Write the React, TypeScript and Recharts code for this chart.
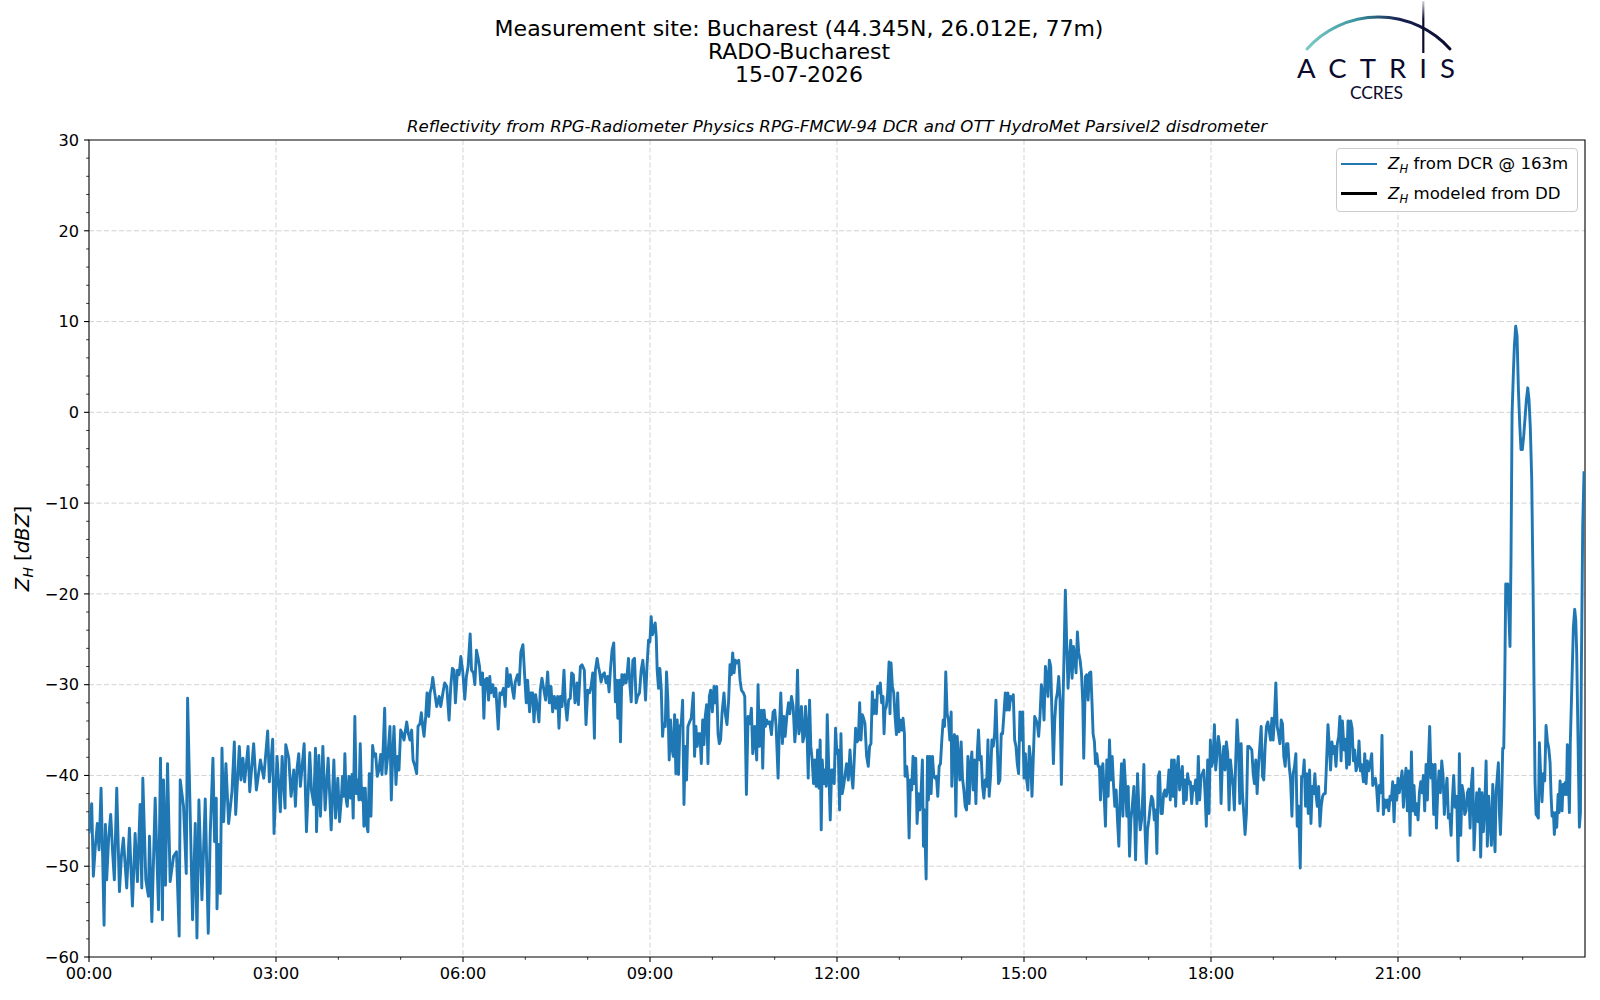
import React from 'react';
import { LineChart, Line, XAxis, YAxis, CartesianGrid, ReferenceArea, Legend } from 'recharts';

const FONT = '"DejaVu Sans", sans-serif';
const BLUE = '#1f77b4';
const NAVY = '#0b0b2e';

const nightMinutes = [
  0, 2.6, 4.2, 6.1, 8.0, 9.7, 11.6, 13.2, 14.5, 15.8, 17.0, 19.0, 20.9, 22.8, 24.4, 26.7, 29.3, 31.2, 33.1, 36.3,
  38.9, 41.8, 44.4, 46.6, 49.2, 50.8, 51.8, 54.7, 57.2, 58.2, 60.5, 63.7, 66.9, 68.8, 70.7, 71.7, 73.6, 75.6, 78.1, 81.4,
  84.2, 86.8, 87.8, 91.0, 93.6, 94.9, 96.5, 99.7, 102.3, 103.9, 105.8, 108.7, 111.9, 114.8, 116.7, 119.3, 120.9, 122.5, 123.2, 124.8,
  126.4, 128.0, 129.6, 131.8, 134.4, 137.6, 139.9, 141.2, 144.7, 146.3, 148.2, 149.8, 153.1, 154.7, 158.5, 161.1, 165.0, 168.2, 172.0, 173.6,
  176.8, 178.1, 181.0, 184.2, 185.9, 188.7, 189.4, 192.3, 194.5, 197.1, 198.7, 200.3, 201.9, 203.5, 207.1, 209.3, 212.5, 214.1, 216.4, 218.0,
  219.0, 221.2, 222.8, 225.1, 227.3, 230.2, 233.1, 235.7, 237.3, 239.5, 241.2,
];
const nightZh = [
  -46.4, -43.1, -51.1, -47.8, -45.3, -48.2, -41.4, -49.3, -56.5, -45.4, -51.5, -46.7, -44.3, -48.6, -51.5, -41.4, -52.8, -48.9, -46.9, -52.4,
  -45.8, -54.4, -46.4, -51.7, -43.2, -52.4, -40.3, -51.5, -53.3, -46.7, -56.1, -42.5, -54.8, -38.1, -55.9, -40.5, -52.1, -38.7, -51.7, -48.9,
  -48.4, -57.7, -40.5, -43.4, -50.8, -31.5, -39.6, -55.9, -45.3, -57.9, -42.7, -53.7, -42.6, -57.4, -46.4, -38.1, -47.3, -42.5, -54.7, -47.6,
  -53.0, -37.0, -45.1, -38.7, -45.3, -41.8, -36.3, -44.3, -36.8, -40.5, -38.1, -40.7, -36.8, -41.8, -36.5, -41.6, -38.3, -40.3, -35.1, -40.7,
  -36.0, -46.4, -37.9, -44.0, -37.9, -43.6, -36.6, -38.1, -42.3, -39.4, -43.4, -39.2, -37.6, -41.2, -36.5, -46.2, -37.5, -41.6, -43.2, -37.0,
  -46.2, -37.8, -44.5, -36.8, -43.8, -38.1, -46.0, -38.3, -44.7, -40.3, -45.1,
];

const morningMinutes = [
  242.8, 244.0, 245.3, 246.3, 247.6, 248.6, 250.2, 251.8, 253.1, 254.3, 255.9, 257.2, 258.8, 259.8, 261.1, 262.4, 263.7, 264.6, 265.9, 267.2,
  268.5, 269.8, 271.4, 273.0, 274.3, 275.9, 277.5, 279.1, 280.7, 282.0, 283.0, 284.6, 285.8, 287.8, 289.7, 291.0, 292.3, 293.6, 295.5, 296.8,
  298.4, 300.0, 301.6, 303.2, 305.8, 307.4, 309.0, 310.6, 311.9, 313.8, 315.4, 316.7, 318.6, 319.9, 321.2, 322.5, 324.1, 325.4, 327.0, 328.3,
  329.9, 330.9, 332.8, 334.7, 337.0, 338.6, 340.8, 342.4, 344.4, 346.6, 348.2, 349.8, 351.4, 352.7, 354.7, 356.3, 357.9, 359.8, 361.7, 363.3,
  364.9, 366.9, 368.2, 370.1, 371.4, 373.0, 374.6, 375.9, 377.2, 378.8, 380.1, 381.3, 383.0, 384.6, 385.8, 386.8, 388.7, 390.0, 391.6, 393.9,
  395.5, 397.1, 399.0, 400.6, 402.2, 403.8, 405.5, 407.1, 409.0, 410.3, 412.5, 414.1, 415.7, 417.7, 419.6, 420.9, 422.2, 424.1, 425.4, 427.0,
  428.3, 429.9, 431.5, 433.1, 434.4, 436.0, 437.6, 439.5, 441.5, 443.1, 444.7, 446.3, 447.9, 449.5, 451.1, 452.4, 453.7, 455.3, 457.2, 458.5,
  460.1, 461.7, 463.3, 464.6, 466.2, 467.8, 469.8, 471.1, 473.0, 474.6, 476.8, 478.4, 480.1, 481.7, 483.3,
];
const morningZh = [
  -42.7, -40.1, -42.3, -37.6, -42.7, -43.4, -40.1, -42.5, -39.9, -44.7, -33.5, -42.0, -40.5, -42.7, -36.5, -42.7, -41.4, -45.6, -41.4, -45.4,
  -46.2, -39.8, -44.5, -36.7, -37.9, -37.6, -40.1, -39.4, -37.7, -39.9, -37.6, -32.6, -39.8, -37.6, -34.6, -42.7, -37.9, -34.6, -41.0, -37.9,
  -39.4, -35.0, -35.4, -36.1, -34.1, -35.4, -36.1, -35.0, -38.3, -39.0, -39.8, -34.6, -34.3, -33.1, -34.6, -35.7, -33.5, -30.9, -33.5, -30.9,
  -30.2, -29.2, -30.9, -32.4, -31.3, -32.4, -30.8, -29.8, -30.2, -33.9, -30.2, -28.2, -28.4, -32.0, -28.4, -28.9, -26.9, -28.6, -31.6, -29.1,
  -28.0, -24.4, -28.4, -28.7, -30.0, -26.2, -27.1, -28.0, -30.0, -28.7, -33.7, -29.5, -29.3, -31.7, -29.1, -30.9, -30.0, -31.3, -30.4, -34.9,
  -30.9, -31.1, -30.4, -32.4, -28.2, -30.2, -28.9, -30.2, -31.5, -29.7, -28.9, -30.0, -26.4, -25.6, -29.5, -32.0, -29.5, -33.0, -30.9, -30.9,
  -34.1, -31.1, -32.4, -34.1, -30.6, -29.3, -30.4, -31.7, -28.6, -32.0, -30.2, -33.0, -31.3, -32.6, -31.3, -34.8, -31.3, -32.4, -28.4, -32.0,
  -33.9, -31.7, -31.5, -28.7, -28.9, -32.0, -29.8, -32.2, -28.0, -27.8, -28.4, -34.4, -30.6, -30.9, -30.2,
];

const middayMinutes = [
  484.9, 486.5, 487.4, 489.1, 490.3, 491.6, 492.9, 494.5, 496.1, 497.7, 499.3, 500.6, 501.9, 503.5, 505.1, 506.7, 508.0, 509.0, 510.6, 511.6,
  512.9, 514.1, 515.4, 517.0, 518.0, 519.3, 520.6, 521.9, 523.5, 525.1, 526.7, 528.0, 529.9, 531.5, 533.1, 534.7, 535.7, 537.0, 538.6, 539.9,
  541.1, 542.4, 543.7, 545.0, 546.0, 546.9, 548.2, 549.5, 550.8, 552.1, 553.0, 554.7, 555.9, 557.2, 558.5, 559.8, 561.1, 562.4, 563.7, 564.9,
  566.2, 567.5, 568.8, 570.1, 571.4, 572.7, 573.9, 575.2, 576.5, 578.1, 579.7, 581.7, 582.9, 584.2, 585.5, 586.8, 588.1, 589.4, 590.7, 591.9,
  593.2, 594.5, 595.8, 597.1, 598.4, 600.0, 601.6, 602.9, 604.2, 605.5, 606.7, 608.0, 609.3, 611.2, 612.5, 614.1, 615.7, 617.0, 618.3, 619.6,
  620.9, 622.2, 623.8, 625.4, 626.7, 628.0, 629.9, 631.2, 632.8, 634.4, 636.0, 637.6, 638.9, 640.8, 642.7, 644.0, 645.3, 647.3, 648.5, 649.8,
  651.1, 652.4, 653.7, 655.3, 656.9, 658.5, 660.1, 661.4, 663.3, 664.6, 665.9, 667.5, 668.8, 670.1, 671.7, 673.3, 674.6, 676.2, 677.8, 679.4,
  680.7, 682.0, 683.3, 684.6, 685.8, 687.1, 688.4, 689.7, 691.0, 692.3, 693.6, 694.8, 696.1, 697.4, 698.7, 700.0, 701.3, 702.6, 703.8, 704.8,
  705.8, 707.1, 708.3, 709.6, 710.6, 712.2, 713.5, 714.8, 716.1, 717.3, 718.6, 719.9, 721.2, 722.5, 723.8,
];
const middayZh = [
  -28.7, -35.9, -28.4, -27.1, -28.0, -28.7, -29.7, -28.9, -28.7, -29.8, -29.1, -30.8, -28.4, -26.2, -25.4, -31.9, -29.5, -33.7, -29.5, -36.3,
  -28.9, -30.0, -28.9, -29.8, -28.9, -27.1, -30.0, -31.9, -27.3, -27.1, -32.0, -31.3, -30.9, -28.4, -27.3, -29.5, -31.7, -28.2, -25.1, -25.3,
  -22.5, -24.5, -23.8, -23.2, -24.7, -28.4, -30.4, -28.2, -30.4, -35.7, -34.3, -34.6, -28.6, -31.7, -38.3, -33.9, -37.0, -37.9, -33.3, -39.8,
  -33.9, -39.9, -34.6, -34.3, -31.7, -43.2, -36.8, -40.5, -34.6, -34.1, -33.7, -30.9, -37.9, -34.6, -36.8, -35.4, -35.4, -38.7, -33.9, -36.6,
  -33.5, -32.2, -38.7, -31.3, -30.6, -33.0, -30.2, -32.0, -30.2, -35.4, -36.5, -36.1, -33.2, -30.9, -33.2, -34.4, -31.7, -27.8, -28.9, -26.5,
  -28.7, -27.3, -27.6, -27.3, -29.5, -30.6, -30.9, -31.3, -42.1, -33.5, -34.3, -32.6, -37.6, -34.6, -38.3, -30.0, -36.8, -32.8, -39.2, -32.8,
  -34.6, -33.9, -34.3, -34.1, -35.5, -33.0, -32.8, -34.6, -40.3, -34.6, -30.9, -36.5, -33.5, -35.7, -33.5, -32.0, -33.2, -31.3, -32.4, -36.3,
  -34.3, -28.4, -35.4, -34.6, -32.4, -36.3, -35.7, -32.4, -34.6, -40.3, -31.7, -36.8, -38.3, -40.9, -38.3, -41.2, -37.2, -41.4, -36.1, -46.0,
  -38.3, -40.9, -39.4, -41.2, -33.3, -39.8, -44.9, -39.4, -39.4, -40.9, -34.8, -37.6, -37.2, -43.8, -35.4,
];

const afternoonMinutes = [
  725.1, 726.3, 727.6, 729.2, 730.9, 732.5, 734.1, 735.3, 736.6, 737.9, 739.2, 740.5, 741.8, 743.1, 744.4, 745.6, 746.9, 748.5, 750.1, 751.4,
  752.7, 754.0, 755.3, 756.6, 757.9, 759.1, 760.4, 761.7, 763.0, 764.3, 765.3, 766.2, 767.5, 768.8, 770.1, 771.0, 772.0, 773.3, 774.6, 775.9,
  777.2, 778.4, 779.7, 781.0, 782.3, 783.6, 784.9, 785.5, 787.1, 788.1, 789.4, 790.7, 791.9, 793.2, 794.5, 795.8, 797.1, 798.4, 799.7, 800.9,
  802.2, 803.2, 804.2, 805.1, 805.8, 807.1, 808.0, 809.3, 810.6, 811.9, 813.2, 814.4, 815.7, 817.0, 818.3, 819.6, 820.9, 822.2, 823.5, 824.7,
  826.0, 827.3, 828.6, 829.9, 830.5, 831.8, 833.1, 834.4, 835.7, 837.0, 838.2, 839.5, 840.8, 842.1, 843.4, 844.7, 846.0, 847.2, 848.5, 849.8,
  851.1, 852.4, 853.7, 855.0, 856.2, 857.5, 858.8, 860.1, 861.4, 862.7, 864.0, 865.3, 866.5, 867.8, 869.1, 870.4, 871.7, 873.0, 874.3, 875.5,
  876.8, 878.1, 879.4, 880.7, 882.0, 883.3, 884.5, 885.8, 887.1, 888.4, 889.7, 891.0, 892.3, 893.5, 894.8, 896.1, 897.4, 898.7, 900.0, 901.3,
  902.6, 903.8, 905.1, 906.4, 907.7, 909.0, 910.3, 911.6, 912.8, 914.1, 915.4, 916.7, 918.0, 919.3, 920.6, 921.8, 923.1, 924.4, 925.7, 927.0,
  928.3, 929.6, 930.8, 932.1, 933.4, 934.7, 936.0, 937.3, 938.6, 939.8, 941.1, 942.4, 943.7, 945.0, 946.3, 947.6, 948.8, 950.1, 951.4, 952.7,
  954.0, 955.3, 956.6, 957.5, 959.1, 960.4, 961.7, 963.0, 964.3, 965.6,
];
const afternoonZh = [
  -42.0, -41.2, -40.1, -38.7, -40.5, -37.2, -40.1, -41.4, -38.3, -34.8, -36.3, -36.1, -32.0, -36.1, -33.3, -33.7, -34.3, -37.9, -39.0, -36.8,
  -36.5, -30.8, -33.2, -31.7, -33.2, -30.2, -30.9, -29.8, -32.0, -31.3, -35.4, -32.8, -32.4, -30.9, -27.5, -33.2, -27.6, -30.2, -30.9, -33.5,
  -35.5, -30.9, -35.2, -33.9, -35.0, -33.7, -35.4, -40.1, -39.0, -40.5, -46.9, -40.5, -41.6, -37.9, -40.9, -38.1, -45.3, -42.0, -43.8, -42.0,
  -38.3, -47.8, -43.8, -48.2, -51.4, -37.9, -42.7, -37.9, -42.0, -37.9, -40.1, -40.3, -40.1, -42.3, -39.0, -38.7, -36.1, -33.9, -34.6, -28.6,
  -33.2, -33.9, -36.1, -33.0, -41.2, -36.1, -35.5, -44.5, -35.7, -38.3, -40.5, -36.3, -40.3, -41.6, -43.4, -43.8, -37.9, -43.1, -39.0, -37.4,
  -41.6, -38.3, -43.1, -37.6, -35.0, -38.3, -37.9, -41.2, -42.5, -40.5, -41.2, -36.1, -42.3, -40.1, -36.1, -36.8, -35.4, -31.7, -36.8, -40.9,
  -40.5, -35.4, -35.4, -33.2, -30.9, -32.8, -30.9, -32.8, -31.3, -31.7, -31.1, -36.1, -36.8, -38.7, -39.8, -33.0, -36.1, -33.0, -40.3, -37.6,
  -40.5, -41.6, -36.8, -38.3, -42.3, -37.9, -33.5, -33.9, -34.3, -35.7, -33.5, -30.0, -30.9, -33.9, -28.0, -29.1, -31.3, -27.3, -28.0, -33.5,
  -38.7, -33.9, -31.7, -30.9, -29.1, -31.7, -41.0, -33.2, -26.5, -19.6, -25.4, -30.4, -27.3, -25.1, -29.3, -25.8, -26.9, -28.7, -24.2, -26.5,
  -27.3, -28.7, -32.0, -38.1, -29.1, -28.9, -31.7, -28.7, -28.6, -32.4,
];

const eveningMinutes = [
  966.5, 967.8, 968.8, 970.1, 971.4, 972.6, 973.6, 974.6, 975.9, 977.1, 978.4, 979.7, 981.0, 982.3, 983.6, 984.9, 986.1, 987.4, 988.7, 990.0,
  991.3, 992.6, 993.9, 995.2, 996.4, 997.7, 999.0, 1000.3, 1001.6, 1002.9, 1004.2, 1005.8, 1007.4, 1008.3, 1009.3, 1010.6, 1011.9, 1013.2, 1014.4, 1015.4,
  1016.4, 1017.7, 1018.9, 1020.2, 1021.5, 1022.8, 1024.1, 1025.4, 1026.7, 1027.9, 1029.2, 1030.5, 1031.8, 1033.1, 1034.4, 1035.7, 1037.0, 1038.2, 1039.5, 1040.8,
  1042.1, 1043.4, 1044.7, 1046.0, 1047.2, 1048.5, 1049.8, 1051.1, 1052.4, 1053.7, 1055.0, 1056.2, 1057.5, 1058.8, 1060.1, 1061.4, 1062.7, 1064.0, 1065.2, 1066.5,
  1067.8, 1069.1, 1070.4, 1071.7, 1073.0, 1074.3, 1075.5, 1076.8, 1078.1, 1079.4, 1080.7, 1082.0, 1083.3, 1084.5, 1085.8, 1087.1, 1088.4, 1089.7, 1091.0, 1092.3,
  1093.5, 1094.8, 1096.1, 1097.4, 1098.7, 1100.0, 1101.3, 1102.5, 1103.8, 1105.1, 1106.4, 1107.7, 1109.0, 1110.3, 1111.6, 1112.8, 1114.1, 1115.4, 1116.7, 1118.0,
  1119.3, 1120.6, 1121.8, 1123.1, 1124.4, 1125.7, 1127.0, 1128.3, 1129.6, 1130.8, 1132.1, 1133.4, 1134.7, 1136.0, 1137.3, 1138.6, 1139.8, 1141.1, 1142.4, 1143.7,
  1145.0, 1146.3, 1147.6, 1148.8, 1150.1, 1151.4, 1152.7, 1154.0, 1155.3, 1156.6, 1157.9, 1159.1, 1160.4, 1161.7, 1163.0, 1164.3, 1165.9, 1167.2, 1168.5, 1169.7,
  1171.0, 1172.3, 1173.6, 1174.9, 1176.2, 1177.5, 1178.7, 1180.0, 1181.0, 1182.3, 1183.6, 1184.9, 1186.1, 1187.4, 1188.7, 1190.0, 1191.3, 1192.6, 1193.9, 1195.1,
  1196.4, 1197.7, 1199.0, 1200.3, 1201.6, 1202.9, 1204.1,
];
const eveningZh = [
  -35.4, -36.3, -38.7, -37.6, -39.0, -39.0, -42.7, -39.8, -38.7, -42.0, -45.6, -38.3, -42.3, -36.1, -40.5, -37.9, -40.9, -43.4, -41.6, -44.9,
  -47.8, -42.0, -38.7, -44.5, -38.3, -41.2, -44.5, -41.2, -48.9, -44.9, -43.4, -41.2, -49.3, -44.9, -39.8, -43.8, -46.0, -44.9, -42.0, -38.8,
  -45.6, -49.7, -46.0, -44.9, -43.4, -42.3, -42.7, -44.9, -43.8, -48.6, -40.1, -39.6, -44.2, -44.2, -42.0, -41.6, -42.3, -41.6, -39.4, -42.7,
  -38.3, -42.3, -38.3, -43.4, -39.4, -37.9, -41.6, -40.1, -39.0, -43.1, -40.5, -42.7, -39.8, -40.9, -40.7, -43.1, -41.2, -41.6, -40.5, -43.1,
  -37.9, -42.7, -40.1, -39.8, -39.4, -42.0, -45.6, -38.3, -44.2, -36.1, -39.0, -38.3, -34.4, -39.4, -37.6, -35.7, -36.8, -43.1, -38.3, -36.8,
  -39.4, -36.3, -37.6, -43.8, -38.3, -39.8, -41.2, -43.8, -38.3, -33.9, -36.8, -43.1, -36.5, -42.0, -44.2, -46.5, -44.2, -36.8, -36.8, -37.0,
  -37.2, -39.8, -40.9, -38.3, -42.0, -39.0, -36.8, -34.6, -40.1, -40.5, -36.8, -34.6, -34.1, -35.0, -36.1, -33.7, -36.1, -33.7, -29.8, -34.6,
  -35.4, -36.5, -33.9, -34.3, -37.9, -39.0, -36.5, -36.5, -39.0, -40.5, -44.5, -39.8, -39.0, -37.6, -45.6, -43.4, -50.2, -40.1, -40.1, -38.3,
  -43.4, -39.8, -44.2, -39.4, -45.3, -41.2, -42.0, -39.8, -42.0, -43.4, -41.2, -45.6, -43.4, -42.3, -42.0, -42.0, -38.3, -34.4, -36.8, -39.4,
  -36.3, -37.6, -36.8, -39.0, -36.5, -35.7, -33.5,
];

const lateMinutes = [
  1205.2, 1206.5, 1208.1, 1209.4, 1210.6, 1211.9, 1213.2, 1214.5, 1215.8, 1217.1, 1218.3, 1219.6, 1221.2, 1222.5, 1223.8, 1225.1, 1226.7, 1228.0, 1229.3, 1230.5,
  1231.8, 1233.1, 1234.7, 1235.7, 1237.0, 1238.2, 1239.5, 1240.8, 1242.1, 1243.4, 1244.6, 1245.9, 1247.2, 1248.5, 1249.8, 1251.1, 1252.3, 1253.6, 1254.9, 1256.2,
  1257.5, 1258.8, 1260.0, 1261.3, 1262.6, 1263.9, 1265.2, 1266.5, 1267.7, 1269.0, 1270.3, 1271.6, 1272.9, 1274.2, 1275.4, 1276.7, 1278.0, 1279.3, 1280.6, 1281.9,
  1283.1, 1284.4, 1285.7, 1287.0, 1288.3, 1289.3, 1290.5, 1291.8, 1293.1, 1294.4, 1295.7, 1297.0, 1298.2, 1299.5, 1300.8, 1302.1, 1303.4, 1304.6, 1305.9, 1307.2,
  1308.5, 1309.8, 1311.1, 1312.3, 1313.6, 1314.9, 1316.5, 1317.8, 1319.1, 1320.4, 1321.7, 1322.9, 1324.2, 1325.5, 1326.8, 1328.1, 1329.4, 1330.6, 1331.9, 1333.2,
  1334.5, 1335.8, 1337.1, 1338.3, 1339.6, 1340.9, 1342.2, 1343.5, 1344.8, 1346.0, 1347.3, 1348.6,
];
const lateZh = [
  -38.4, -34.0, -37.2, -36.0, -39.2, -34.0, -38.8, -34.0, -34.8, -38.4, -37.2, -39.5, -38.8, -36.2, -39.5, -38.8, -40.7, -37.6, -40.9, -38.4,
  -39.5, -38.8, -37.6, -41.1, -40.7, -40.3, -41.5, -43.9, -41.1, -41.9, -35.6, -44.3, -42.7, -43.5, -42.7, -43.9, -42.3, -42.7, -40.7, -45.1,
  -41.1, -42.7, -40.3, -41.9, -40.7, -39.5, -43.5, -40.7, -39.2, -43.9, -39.5, -46.6, -37.4, -43.9, -41.1, -44.3, -43.1, -44.9, -41.9, -40.7,
  -41.9, -40.0, -43.9, -38.8, -42.7, -38.4, -34.6, -40.3, -38.8, -44.3, -38.8, -45.8, -41.9, -39.5, -41.9, -38.4, -40.0, -44.3, -41.9, -40.3,
  -44.7, -44.3, -46.6, -42.7, -40.0, -43.5, -42.3, -49.4, -37.6, -46.6, -41.1, -41.9, -44.3, -43.9, -41.9, -41.5, -45.8, -41.1, -39.2, -48.2,
  -44.7, -41.9, -45.1, -41.5, -49.0, -41.9, -46.2, -43.5, -38.4, -47.8, -42.3, -45.1,
];

const stormMinutes = [
  1349.9, 1351.2, 1352.5, 1353.4, 1354.4, 1355.3, 1356.6, 1357.6, 1358.6, 1359.8, 1360.8, 1361.8, 1362.7, 1363.7, 1364.6, 1365.6, 1366.9, 1367.8, 1368.8,
  1369.8, 1371.1, 1372.0, 1373.3, 1374.6, 1375.9, 1377.2, 1378.4, 1379.7, 1381.0, 1382.3, 1383.6, 1384.9, 1386.1, 1387.4, 1388.7, 1390.0, 1391.0, 1391.9, 1392.9,
  1394.2, 1395.1, 1396.1, 1397.4, 1398.6, 1399.9, 1401.2, 1402.5, 1403.8, 1405.1, 1406.4, 1407.3, 1408.3, 1409.6, 1410.5, 1411.8, 1412.8, 1414.1, 1415.0, 1416.0,
  1416.9, 1417.9, 1418.9, 1419.8, 1420.8, 1422.1, 1423.0, 1424.0, 1425.0, 1425.9, 1427.2, 1428.8, 1430.1, 1431.1, 1432.0, 1433.3, 1434.6, 1435.6, 1436.5, 1437.8,
  1439.1,
];
const stormZh = [
  -47.7, -41.0, -46.1, -48.4, -41.8, -40.6, -38.6, -44.1, -46.5, -42.5, -37.0, -37.0, -30.3, -18.9, -19.3, -18.9, -22.9, -25.8, -15.8,
  -0.2, 4.5, 7.3, 9.5, 8.4, 2.5, -1.4, -4.1, -4.1, -2.6, -0.6, 1.4, 2.7, 1.4, -1.8, -7.3, -19.1, -30.9, -40.7, -44.3,
  -44.5, -44.7, -36.4, -40.2, -42.9, -39.8, -40.6, -34.5, -36.2, -37.0, -38.6, -42.1, -44.5, -44.1, -46.5, -44.1, -45.7, -42.1, -44.1, -40.6,
  -42.1, -43.9, -41.0, -42.1, -40.8, -42.1, -36.6, -40.2, -44.1, -36.2, -30.7, -23.7, -21.7, -22.9, -26.4, -36.2, -45.7, -44.1, -28.4, -12.6,
  -6.5,
];

const minuteBlocks = [nightMinutes, morningMinutes, middayMinutes, afternoonMinutes, eveningMinutes, lateMinutes, stormMinutes];
const zhBlocks = [nightZh, morningZh, middayZh, afternoonZh, eveningZh, lateZh, stormZh];

// axis ticks
const hourTicks = [
  0, 60, 120, 180, 240, 300, 360, 420, 480, 540, 600, 660, 720, 780, 840, 900, 960, 1020, 1080, 1140, 1200, 1260, 1320, 1380,
];
const xMajorTicks = [0, 180, 360, 540, 720, 900, 1080, 1260];
const xTickLabels = ['00:00', '03:00', '06:00', '09:00', '12:00', '15:00', '18:00', '21:00'];
const yMajorTicks = [-60, -50, -40, -30, -20, -10, 0, 10, 20, 30];
const yTickLabels = ['\u221260', '\u221250', '\u221240', '\u221230', '\u221220', '\u221210', '0', '10', '20', '30'];

const yTicks = yMajorTicks.flatMap((v, i) =>
  i < yMajorTicks.length - 1 ? [v, v + 2, v + 4, v + 6, v + 8] : [v]
);

// the disdrometer model has no samples on this day, so its column stays empty
const rows = minuteBlocks.flatMap((mins, b) =>
  mins.map((t, i) => ({ t, dcr: zhBlocks[b][i], dd: null as number | null }))
);

const legendRest: Record<string, string> = {
  dcr: ' from DCR @ 163m',
  dd: ' modeled from DD',
};

function HourTick(props: any) {
  const { x, y, payload } = props;
  const k = xMajorTicks.indexOf(payload.value);
  if (k < 0) {
    return <line x1={x} x2={x} y1={y} y2={y + 2.8} stroke="#000" strokeWidth={0.8} />;
  }
  return (
    <g>
      <line x1={x} x2={x} y1={y} y2={y + 4.9} stroke="#000" strokeWidth={1.1} />
      <text x={x} y={y + 21.5} textAnchor="middle" fontFamily={FONT} fontSize={16.2} fill="#000">
        {xTickLabels[k]}
      </text>
    </g>
  );
}

function DbzTick(props: any) {
  const { x, y, payload } = props;
  const k = yMajorTicks.indexOf(payload.value);
  if (k < 0) {
    return <line x1={x - 2.8} x2={x} y1={y} y2={y} stroke="#000" strokeWidth={0.8} />;
  }
  return (
    <g>
      <line x1={x - 4.9} x2={x} y1={y} y2={y} stroke="#000" strokeWidth={1.1} />
      <text x={x - 10} y={y + 5.8} textAnchor="end" fontFamily={FONT} fontSize={16.2} fill="#000">
        {yTickLabels[k]}
      </text>
    </g>
  );
}

function LegendBox(props: any) {
  const items = (props.payload || []) as any[];
  return (
    <div
      style={{
        position: 'relative',
        boxSizing: 'border-box',
        width: 242,
        height: 64,
        border: '1px solid #cccccc',
        borderRadius: 4,
        background: 'rgba(255,255,255,0.8)',
        fontFamily: FONT,
        fontSize: 16.6,
        color: '#000',
      }}
    >
      {items.map((item, i) => (
        <div key={String(item.dataKey)} style={{ position: 'absolute', left: 0, top: 14.7 + i * 29.3, height: 0 }}>
          <div
            style={{
              position: 'absolute',
              left: 4,
              top: -1.35,
              width: 36,
              height: 2.7,
              background: item.color,
            }}
          />
          <div style={{ position: 'absolute', left: 51.6, top: -10.5, whiteSpace: 'nowrap', lineHeight: '21px' }}>
            <i>Z</i>
            <i style={{ fontSize: '70%', position: 'relative', top: 4 }}>H</i>
            {legendRest[String(item.dataKey)]}
          </div>
        </div>
      ))}
    </div>
  );
}

function Header() {
  return (
    <svg
      width={1600}
      height={1000}
      style={{ position: 'absolute', left: 0, top: 0, pointerEvents: 'none' }}
    >
      <defs>
        <linearGradient id="arcGrad" x1={1307} y1={0} x2={1450} y2={0} gradientUnits="userSpaceOnUse">
          <stop offset="0" stopColor="#7ccac4" />
          <stop offset="0.35" stopColor="#3a93a0" />
          <stop offset="0.65" stopColor="#16204f" />
          <stop offset="1" stopColor={NAVY} />
        </linearGradient>
        <linearGradient id="mastGrad" x1={0} y1={1} x2={0} y2={53} gradientUnits="userSpaceOnUse">
          <stop offset="0" stopColor="#d6d6e2" />
          <stop offset="0.35" stopColor={NAVY} />
          <stop offset="1" stopColor={NAVY} />
        </linearGradient>
      </defs>

      <g fontFamily={FONT} fontSize={22} fill="#000" textAnchor="middle">
        <text x={799} y={36.3}>Measurement site: Bucharest (44.345N, 26.012E, 77m)</text>
        <text x={799} y={58.8}>RADO-Bucharest</text>
        <text x={799} y={82.3}>15-07-2026</text>
      </g>

      <text x={837} y={131.6} textAnchor="middle" fontFamily={FONT} fontSize={16.6} fontStyle="italic" fill="#000">
        Reflectivity from RPG-Radiometer Physics RPG-FMCW-94 DCR and OTT HydroMet Parsivel2 disdrometer
      </text>

      <g transform="translate(23.5,548.5) rotate(-90)">
        <text x={0} y={5.5} textAnchor="middle" fontFamily={FONT} fontSize={19.8} fill="#000">
          <tspan fontStyle="italic">Z</tspan>
          <tspan fontStyle="italic" fontSize={13.8} dy={4}>H</tspan>
          <tspan dy={-4}> [</tspan>
          <tspan fontStyle="italic">dBZ</tspan>
          <tspan>]</tspan>
        </text>
      </g>

      {/* ACTRIS CCRES logo */}
      <path d="M1307,49 A96,96 0 0 1 1450,49" fill="none" stroke="url(#arcGrad)" strokeWidth={3} strokeLinecap="round" />
      <line x1={1423.3} x2={1423.3} y1={1} y2={53} stroke="url(#mastGrad)" strokeWidth={2.2} />
      <text x={1297} y={78.3} fontFamily="Lato, sans-serif" fontSize={27.5} fill={NAVY} textLength={158} lengthAdjust="spacing">
        ACTRIS
      </text>
      <text x={1350} y={99} fontFamily="Lato, sans-serif" fontSize={17.5} fill={NAVY} textLength={53} lengthAdjust="spacing">
        CCRES
      </text>
    </svg>
  );
}

export default function App() {
  return (
    <div style={{ position: 'absolute', left: 0, top: 0, width: 1600, height: 1000, background: '#fff' }}>
      <LineChart width={1600} height={1000} data={rows} margin={{ top: 140, right: 15, bottom: 0, left: 0 }}>
        <CartesianGrid
          horizontalValues={[-50, -40, -30, -20, -10, 0, 10, 20]}
          verticalValues={[180, 360, 540, 720, 900, 1080, 1260]}
          stroke="#d3d3d3"
          strokeWidth={1}
          strokeDasharray="5 2.5"
        />
        <XAxis
          dataKey="t"
          type="number"
          domain={[0, 1440]}
          allowDataOverflow
          ticks={hourTicks}
          interval={0}
          height={43}
          tickSize={0}
          tickMargin={0}
          tickLine={false}
          axisLine={false}
          tick={<HourTick />}
        />
        <YAxis
          type="number"
          domain={[-60, 30]}
          allowDataOverflow
          ticks={yTicks}
          interval={0}
          width={89}
          tickSize={0}
          tickMargin={0}
          tickLine={false}
          axisLine={false}
          tick={<DbzTick />}
        />
        <Line
          dataKey="dcr"
          name="dcr"
          type="linear"
          stroke={BLUE}
          strokeWidth={2.9}
          strokeLinejoin="round"
          dot={false}
          activeDot={false}
          isAnimationActive={false}
        />
        <Line
          dataKey="dd"
          name="dd"
          type="linear"
          stroke="#000000"
          strokeWidth={2.7}
          dot={false}
          activeDot={false}
          isAnimationActive={false}
        />
        <ReferenceArea x1={0} x2={1440} y1={-60} y2={30} fill="none" stroke="#000" strokeWidth={1.1} />
        <Legend
          layout="horizontal"
          verticalAlign="middle"
          align="center"
          width={242}
          height={64}
          wrapperStyle={{ left: 1335.5, top: 148.3, width: 242, height: 64 }}
          content={<LegendBox />}
        />
      </LineChart>
      <Header />
    </div>
  );
}
